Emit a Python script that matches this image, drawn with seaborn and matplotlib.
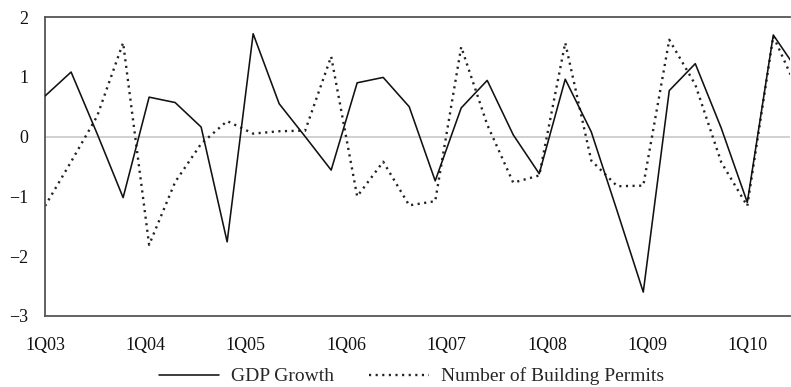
import numpy as np
import pandas as pd
import matplotlib
matplotlib.use("Agg")
import matplotlib.pyplot as plt
import seaborn as sns

# quarterly series, 1Q03 onwards
quarter = np.arange(30)
gdp_growth = [0.68, 1.08, 0.05, -1.02, 0.66, 0.57, 0.16, -1.76, 1.72, 0.55,
              0.0, -0.56, 0.90, 0.99, 0.50, -0.74, 0.48, 0.94, 0.03, -0.62,
              0.96, 0.08, -1.25, -2.60, 0.77, 1.22, 0.14, -1.10, 1.70, 1.06]
permits = [-1.16, -0.42, 0.34, 1.57, -1.81, -0.76, -0.12, 0.26, 0.05, 0.09,
           0.10, 1.34, -1.00, -0.42, -1.15, -1.08, 1.50, 0.20, -0.77, -0.65,
           1.57, -0.40, -0.83, -0.82, 1.62, 0.87, -0.43, -1.16, 1.68, 0.71]
tick_labels = ["1Q03", "1Q04", "1Q05", "1Q06", "1Q07", "1Q08", "1Q09", "1Q10"]
tick_pos = np.arange(len(tick_labels)) * 3.86

df = pd.DataFrame({"q": quarter, "gdp": gdp_growth, "permits": permits})

sns.set_style("white")
plt.rcParams["font.family"] = ["Liberation Serif", "DejaVu Serif"]

fig, ax = plt.subplots(figsize=(7.91, 3.87), dpi=100)
fig.subplots_adjust(left=0.057, right=0.999, top=0.956, bottom=0.1835)

ax.axhline(0, color="#c4c4c4", lw=1.1, zorder=1)
sns.lineplot(data=df, x="q", y="gdp", ax=ax, color="#111111", lw=1.15,
             label="GDP Growth", zorder=3)
sns.lineplot(data=df, x="q", y="permits", ax=ax, color="#222222", lw=1.7,
             linestyle=(0, (0.9, 1.9)), label="Number of Building Permits",
             zorder=2)

ax.set_xlim(0, 28.65)
ax.set_ylim(-3, 2)
ax.set_yticks([-3, -2, -1, 0, 1, 2])
ax.set_yticklabels(["\u22123", "\u22122", "\u22121", "0", "1", "2"])
ax.set_xticks(tick_pos)
ax.set_xticklabels(tick_labels)
ax.set_xlabel("")
ax.set_ylabel("")
ax.tick_params(axis="both", direction="in", length=5, width=1,
               color="#555555", labelsize=13, labelcolor="#111111")
ax.tick_params(axis="y", pad=12)
ax.tick_params(axis="x", pad=15)

for side in ["left", "bottom", "top"]:
    ax.spines[side].set_color("#555555")
    ax.spines[side].set_linewidth(1.3)
ax.spines["right"].set_visible(False)

ax.get_legend().remove()
handles, labels = ax.get_legend_handles_labels()
fig.legend(handles, labels, loc="center", bbox_to_anchor=(0.52, 0.027),
           ncol=2, frameon=False, fontsize=14, handlelength=3.1,
           handletextpad=0.6, columnspacing=1.8)

plt.savefig("out.png", dpi=100)
